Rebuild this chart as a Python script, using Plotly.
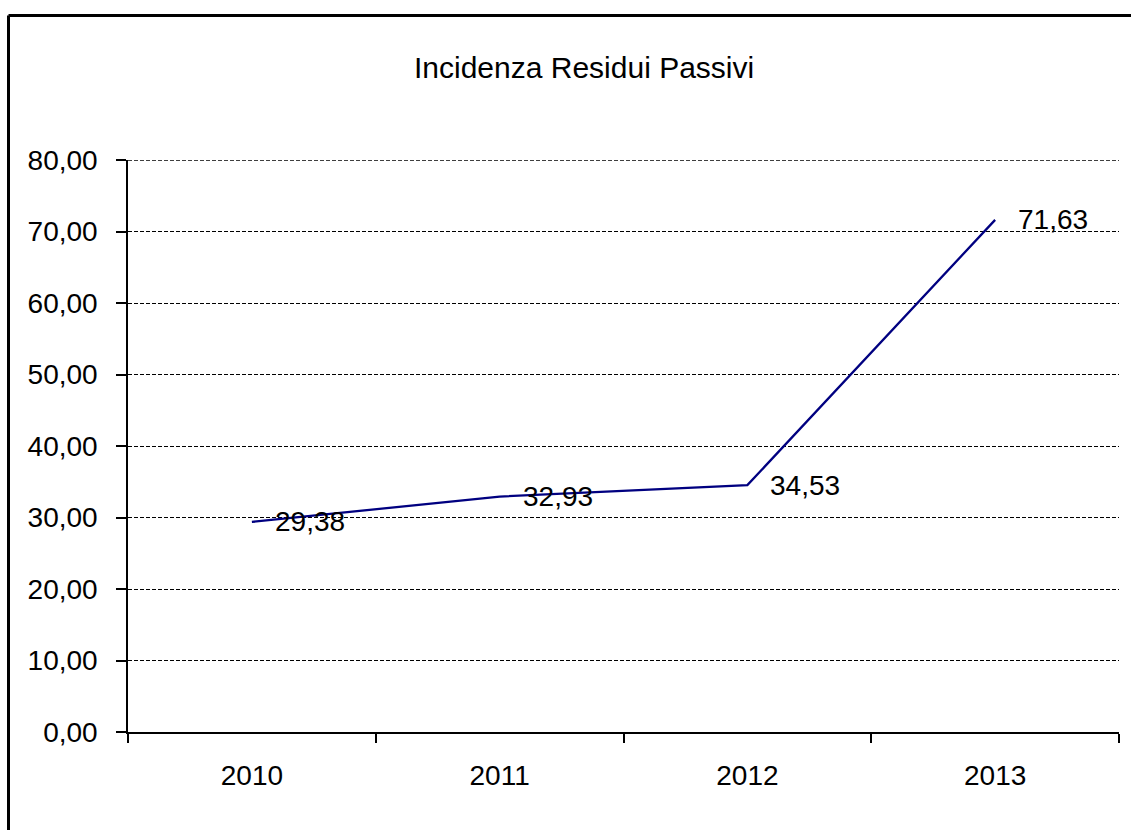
import plotly.graph_objects as go

# Incidenza dei residui passivi per anno
anni = ["2010", "2011", "2012", "2013"]
incidenza = [29.38, 32.93, 34.53, 71.63]
y_ticks = [0, 10, 20, 30, 40, 50, 60, 70, 80]
y_tick_labels = ["0,00", "10,00", "20,00", "30,00", "40,00", "50,00", "60,00", "70,00", "80,00"]

W, H = 1131, 830
L, R, T, B = 128, 12, 160, 98
pw, ph = W - L - R, H - T - B

FONT = "Liberation Sans, Arial, sans-serif"
GRID_DASH = "4px,2px"

fig = go.Figure()
fig.add_trace(go.Scatter(
    x=anni, y=incidenza, mode="lines",
    line=dict(color="#000080", width=2.3),
    hoverinfo="skip", showlegend=False,
))

# etichette dei valori, a destra di ciascun punto (indice di categoria sull'asse x)
for i, v in enumerate(incidenza):
    fig.add_annotation(
        x=i, y=v, xref="x", yref="y",
        text=f"{v:.2f}".replace(".", ","),
        showarrow=False, xanchor="left", yanchor="middle", xshift=21,
        font=dict(family=FONT, size=28, color="black"),
    )

# linea di griglia sul bordo superiore dell'area del grafico
fig.add_shape(type="line", xref="paper", yref="y",
              x0=0, x1=1, y0=y_ticks[-1], y1=y_ticks[-1],
              line=dict(color="black", width=1.4, dash=GRID_DASH))

# cornice del grafico (lati sinistro e superiore)
def px_x(p):
    return (p - L) / pw

def px_y(p):
    return (H - B - p) / ph

fig.add_shape(type="line", xref="paper", yref="paper",
              x0=px_x(8.5), x1=px_x(1135), y0=px_y(15.5), y1=px_y(15.5),
              line=dict(color="black", width=3))
fig.add_shape(type="line", xref="paper", yref="paper",
              x0=px_x(8.5), x1=px_x(8.5), y0=px_y(15.5), y1=px_y(835),
              line=dict(color="black", width=3))

fig.add_annotation(
    text="Incidenza Residui Passivi", xref="paper", yref="paper",
    x=px_x(584), y=px_y(67), xanchor="center", yanchor="middle",
    showarrow=False, font=dict(family=FONT, size=30, color="black"),
)

fig.update_xaxes(
    type="category", range=[-0.5, 3.5],
    showline=True, linecolor="black", linewidth=1.5,
    ticks="outside", tickson="boundaries", ticklen=9, tickwidth=1.5, tickcolor="black",
    showgrid=False, zeroline=False,
    tickfont=dict(family=FONT, size=28, color="black"),
    ticklabelstandoff=18,
)
fig.update_yaxes(
    range=[y_ticks[0], y_ticks[-1]], tickvals=y_ticks, ticktext=y_tick_labels,
    showline=True, linecolor="black", linewidth=1.5,
    ticks="outside", ticklen=10, tickwidth=1.5, tickcolor="black",
    showgrid=True, gridcolor="black", gridwidth=1, griddash=GRID_DASH,
    zeroline=False,
    tickfont=dict(family=FONT, size=28, color="black"),
    ticklabelstandoff=13,
)

fig.update_layout(
    width=W, height=H,
    margin=dict(l=L, r=R, t=T, b=B, pad=0),
    paper_bgcolor="white", plot_bgcolor="white",
    showlegend=False,
)

fig.write_html("out.html")
